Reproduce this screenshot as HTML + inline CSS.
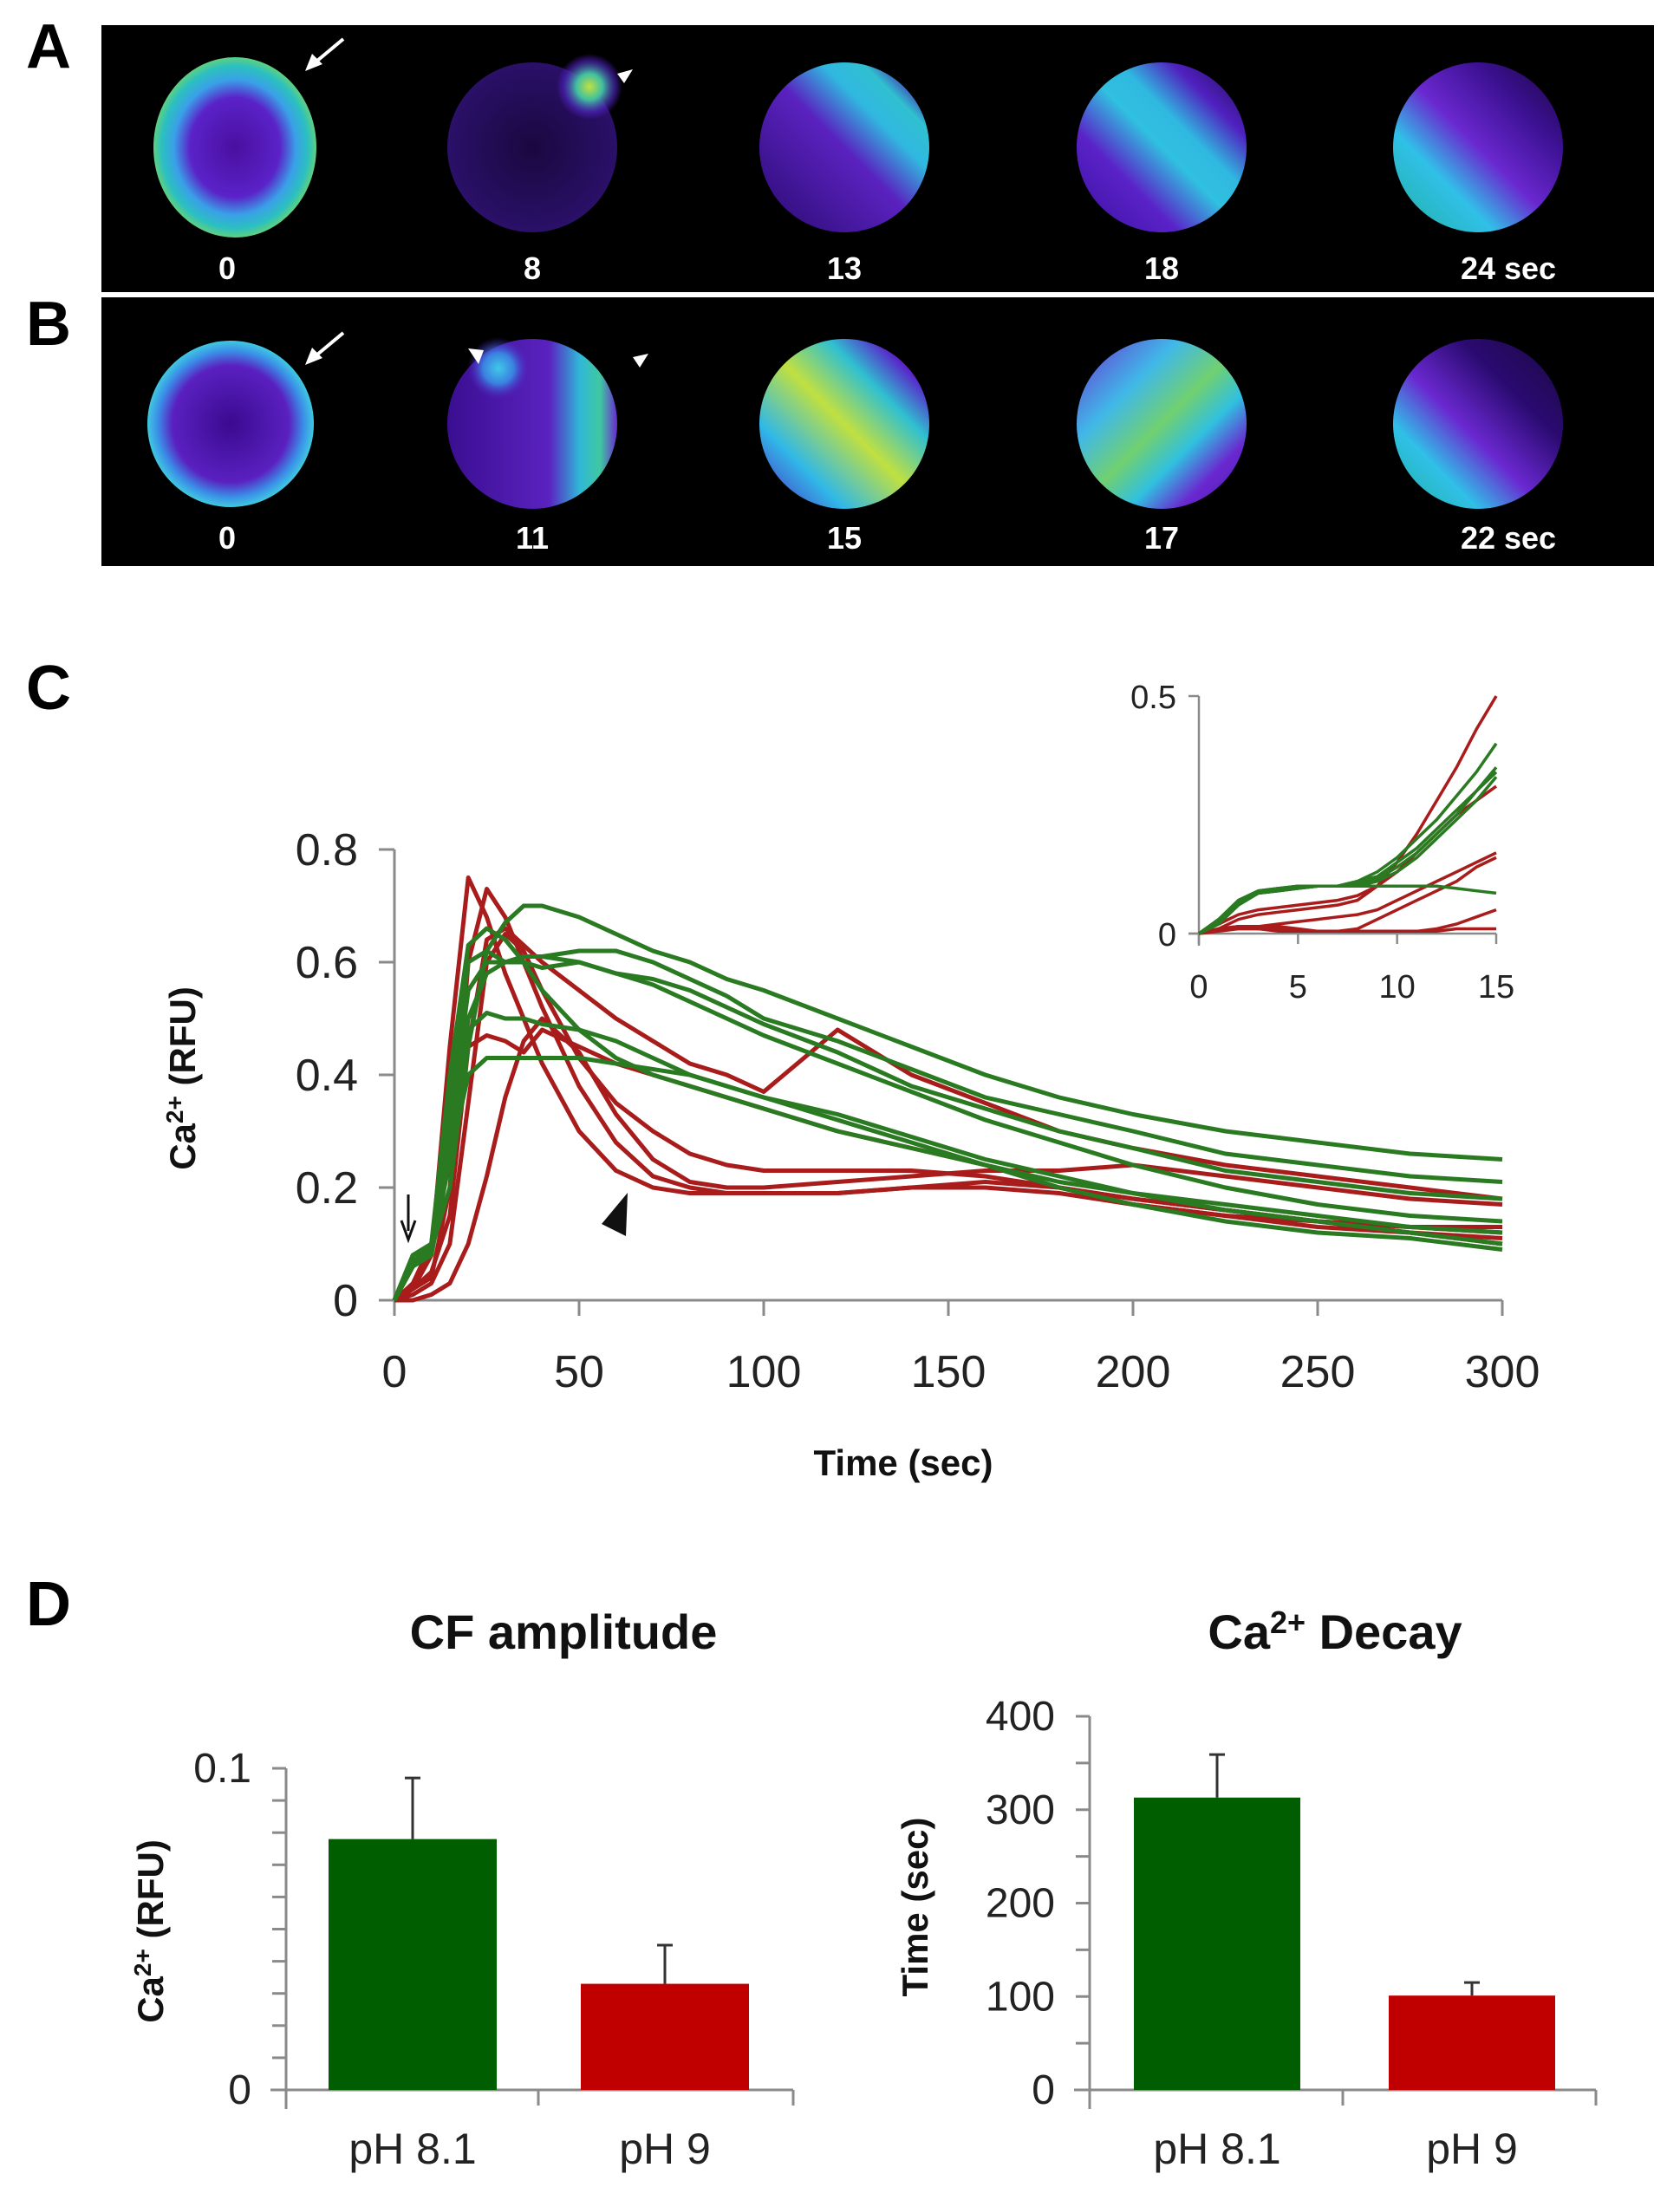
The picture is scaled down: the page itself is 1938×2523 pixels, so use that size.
<!DOCTYPE html>
<html><head><meta charset="utf-8">
<style>
html,body{margin:0;padding:0;background:#fff;}
svg{display:block;}
text{font-family:"Liberation Sans",Arial,sans-serif;}
</style></head>
<body>
<svg id="fig" width="1938" height="2523" viewBox="0 0 1938 2523" xmlns="http://www.w3.org/2000/svg">
<defs>
  <radialGradient id="gA0" cx="50%" cy="50%" r="50%"><stop offset="0" stop-color="#4a0fa0"/><stop offset="0.55" stop-color="#5a22c8"/><stop offset="0.75" stop-color="#3aa0e8"/><stop offset="0.9" stop-color="#2bc0c0"/><stop offset="1" stop-color="#5fd080"/></radialGradient>
  <radialGradient id="gB0" cx="50%" cy="50%" r="50%"><stop offset="0" stop-color="#3a0a90"/><stop offset="0.7" stop-color="#5a20c0"/><stop offset="0.88" stop-color="#3a90e8"/><stop offset="1" stop-color="#40c8e0"/></radialGradient>
  <radialGradient id="gDark" cx="50%" cy="50%" r="50%"><stop offset="0" stop-color="#1a0840"/><stop offset="1" stop-color="#2a1068"/></radialGradient>
  <radialGradient id="gSpot" cx="50%" cy="50%" r="50%"><stop offset="0" stop-color="#c0e040"/><stop offset="0.4" stop-color="#40c0a0"/><stop offset="0.8" stop-color="#5020c0" stop-opacity="0.6"/><stop offset="1" stop-color="#5020c0" stop-opacity="0"/></radialGradient>
  <radialGradient id="gSpotC" cx="50%" cy="50%" r="50%"><stop offset="0" stop-color="#40c8e8"/><stop offset="0.5" stop-color="#3a80e0"/><stop offset="1" stop-color="#5020c0" stop-opacity="0"/></radialGradient>
  <linearGradient id="gA13" x1="0" y1="1" x2="1" y2="0"><stop offset="0" stop-color="#2a0a70"/><stop offset="0.5" stop-color="#5a22c0"/><stop offset="0.68" stop-color="#30b8e0"/><stop offset="0.8" stop-color="#30c0d0"/><stop offset="0.9" stop-color="#4a20b0"/><stop offset="1" stop-color="#200850"/></linearGradient>
  <linearGradient id="gA18" x1="0" y1="1" x2="1" y2="0"><stop offset="0" stop-color="#3a10a0"/><stop offset="0.3" stop-color="#5a22c8"/><stop offset="0.5" stop-color="#30c0e0"/><stop offset="0.62" stop-color="#30b8e0"/><stop offset="0.78" stop-color="#5020c0"/><stop offset="1" stop-color="#1a0840"/></linearGradient>
  <linearGradient id="gA24" x1="0" y1="1" x2="1" y2="0"><stop offset="0" stop-color="#20b0a0"/><stop offset="0.3" stop-color="#30c0e8"/><stop offset="0.5" stop-color="#6a28d0"/><stop offset="0.75" stop-color="#3a1090"/><stop offset="1" stop-color="#1a0840"/></linearGradient>
  <linearGradient id="gB15" x1="0" y1="1" x2="1" y2="0"><stop offset="0" stop-color="#5020c0"/><stop offset="0.25" stop-color="#30b8e8"/><stop offset="0.5" stop-color="#c0e040"/><stop offset="0.7" stop-color="#30c0d0"/><stop offset="0.85" stop-color="#5a22c8"/><stop offset="1" stop-color="#3a1090"/></linearGradient>
  <linearGradient id="gB17" x1="0" y1="0" x2="1" y2="1"><stop offset="0" stop-color="#6a30d0"/><stop offset="0.3" stop-color="#40b8e8"/><stop offset="0.5" stop-color="#70d070"/><stop offset="0.65" stop-color="#30c0e0"/><stop offset="0.8" stop-color="#6a28d0"/><stop offset="1" stop-color="#4a18a8"/></linearGradient>
  <linearGradient id="gB22" x1="0" y1="1" x2="1" y2="0"><stop offset="0" stop-color="#20b0a0"/><stop offset="0.25" stop-color="#30c0e8"/><stop offset="0.45" stop-color="#6a28d0"/><stop offset="0.7" stop-color="#2a0a70"/><stop offset="1" stop-color="#1a0840"/></linearGradient>
  <linearGradient id="gB11" x1="0" y1="0" x2="1" y2="0"><stop offset="0" stop-color="#3a0e90"/><stop offset="0.6" stop-color="#5a22c0"/><stop offset="0.78" stop-color="#30b8d8"/><stop offset="0.9" stop-color="#40c8a0"/><stop offset="1" stop-color="#6a28d0"/></linearGradient>
</defs>

<!-- Panel labels -->
<text x="30" y="78" font-size="72" font-weight="bold">A</text>
<text x="30" y="398" font-size="72" font-weight="bold">B</text>
<text x="30" y="818" font-size="72" font-weight="bold">C</text>
<text x="30" y="1875" font-size="72" font-weight="bold">D</text>

<!-- Panel A image strip -->
<g>
  <rect x="117" y="29" width="1791" height="308" fill="#000"/>
  <ellipse cx="271" cy="170" rx="94" ry="104" fill="url(#gA0)"/>
  <circle cx="614" cy="170" r="98" fill="url(#gDark)"/>
  <circle cx="680" cy="100" r="38" fill="url(#gSpot)"/>
  <circle cx="974" cy="170" r="98" fill="url(#gA13)"/>
  <circle cx="1340" cy="170" r="98" fill="url(#gA18)"/>
  <circle cx="1705" cy="170" r="98" fill="url(#gA24)"/>
  <path d="M396 45 L366 70" stroke="#fff" stroke-width="4" fill="none"/>
  <path d="M352 82 L360 62 L372 74 Z" fill="#fff"/>
  <path d="M712 85 L730 80 L720 96 Z" fill="#fff"/>
  <g fill="#fff" font-size="36" font-weight="bold" text-anchor="middle">
    <text x="262" y="322">0</text><text x="614" y="322">8</text><text x="974" y="322">13</text><text x="1340" y="322">18</text><text x="1740" y="322">24 sec</text>
  </g>
</g>

<!-- Panel B image strip -->
<g>
  <rect x="117" y="343" width="1791" height="310" fill="#000"/>
  <circle cx="266" cy="489" r="96" fill="url(#gB0)"/>
  <circle cx="614" cy="489" r="98" fill="url(#gB11)"/>
  <circle cx="575" cy="425" r="36" fill="url(#gSpotC)"/>
  <circle cx="974" cy="489" r="98" fill="url(#gB15)"/>
  <circle cx="1340" cy="489" r="98" fill="url(#gB17)"/>
  <circle cx="1705" cy="489" r="98" fill="url(#gB22)"/>
  <path d="M396 384 L366 409" stroke="#fff" stroke-width="4" fill="none"/>
  <path d="M352 421 L360 401 L372 413 Z" fill="#fff"/>
  <path d="M540 402 L558 404 L552 420 Z" fill="#fff"/>
  <path d="M730 412 L748 408 L738 424 Z" fill="#fff"/>
  <g fill="#fff" font-size="36" font-weight="bold" text-anchor="middle">
    <text x="262" y="633">0</text><text x="614" y="633">11</text><text x="974" y="633">15</text><text x="1340" y="633">17</text><text x="1740" y="633">22 sec</text>
  </g>
</g>

<g id="chartC"></g>
<g id="inset"></g>
<g id="barL"></g>
<g id="barR"></g>
</svg>

<script>
// ---- Chart C data ----
const cTimes = [0,5,10,15,20,25,30,35,40,50,60,70,80,90,100,120,140,160,180,200,225,250,275,300];
const redSeries = [
 [0,0.02,0.08,0.45,0.75,0.68,0.58,0.5,0.42,0.3,0.23,0.2,0.19,0.19,0.19,0.19,0.2,0.2,0.19,0.17,0.15,0.13,0.12,0.11],
 [0,0.02,0.04,0.2,0.6,0.73,0.68,0.6,0.52,0.38,0.28,0.22,0.2,0.19,0.19,0.19,0.2,0.21,0.2,0.18,0.16,0.14,0.13,0.12],
 [0,0.02,0.05,0.15,0.45,0.64,0.66,0.63,0.6,0.55,0.5,0.46,0.42,0.4,0.37,0.48,0.4,0.35,0.3,0.27,0.24,0.22,0.2,0.18],
 [0,0,0.01,0.03,0.1,0.22,0.36,0.46,0.5,0.44,0.33,0.25,0.21,0.2,0.2,0.21,0.22,0.23,0.23,0.24,0.22,0.2,0.18,0.17],
 [0,0.03,0.1,0.3,0.45,0.47,0.46,0.44,0.48,0.45,0.42,0.4,0.38,0.36,0.34,0.3,0.27,0.24,0.2,0.17,0.15,0.14,0.13,0.13],
 [0,0.01,0.03,0.1,0.35,0.6,0.65,0.62,0.55,0.43,0.35,0.3,0.26,0.24,0.23,0.23,0.23,0.22,0.2,0.18,0.16,0.14,0.12,0.1]
];
const greenSeries = [
 [0,0.07,0.09,0.2,0.45,0.62,0.67,0.7,0.7,0.68,0.65,0.62,0.6,0.57,0.55,0.5,0.45,0.4,0.36,0.33,0.3,0.28,0.26,0.25],
 [0,0.06,0.09,0.3,0.55,0.6,0.6,0.61,0.61,0.62,0.62,0.6,0.57,0.54,0.5,0.46,0.41,0.36,0.33,0.3,0.26,0.24,0.22,0.21],
 [0,0.08,0.1,0.35,0.6,0.62,0.6,0.6,0.59,0.6,0.58,0.57,0.55,0.52,0.49,0.44,0.38,0.34,0.3,0.27,0.23,0.21,0.19,0.18],
 [0,0.08,0.1,0.4,0.63,0.66,0.64,0.6,0.55,0.48,0.43,0.4,0.38,0.36,0.34,0.3,0.27,0.24,0.21,0.19,0.17,0.15,0.13,0.12],
 [0,0.07,0.09,0.3,0.48,0.51,0.5,0.5,0.49,0.48,0.46,0.43,0.4,0.38,0.36,0.33,0.29,0.25,0.22,0.19,0.16,0.14,0.12,0.1],
 [0,0.06,0.08,0.25,0.4,0.43,0.43,0.43,0.43,0.43,0.42,0.41,0.4,0.38,0.36,0.32,0.28,0.24,0.2,0.17,0.14,0.12,0.11,0.09],
 [0,0.08,0.09,0.25,0.5,0.58,0.6,0.61,0.61,0.6,0.58,0.56,0.53,0.5,0.47,0.42,0.37,0.32,0.28,0.24,0.2,0.17,0.15,0.14]
];
const cXTicks = [0,50,100,150,200,250,300];
const cYTicks = [0,0.2,0.4,0.6,0.8];
const cYLabels = ["0","0.2","0.4","0.6","0.8"];

// ---- Inset data ----
const iTimes = [0,1,2,3,4,5,6,7,8,9,10,11,12,13,14,15];
const iGreen = [
 [0,0.03,0.07,0.09,0.095,0.1,0.1,0.1,0.11,0.13,0.16,0.2,0.24,0.29,0.34,0.4],
 [0,0.03,0.07,0.085,0.09,0.095,0.1,0.1,0.11,0.12,0.15,0.18,0.22,0.26,0.3,0.35],
 [0,0.02,0.06,0.085,0.09,0.095,0.1,0.1,0.105,0.115,0.14,0.17,0.21,0.25,0.3,0.34],
 [0,0.025,0.065,0.085,0.09,0.095,0.1,0.1,0.1,0.11,0.13,0.16,0.2,0.24,0.28,0.33],
 [0,0.03,0.07,0.09,0.095,0.1,0.1,0.1,0.1,0.1,0.1,0.1,0.1,0.095,0.09,0.085]
];
const iRed = [
 [0,0.01,0.03,0.04,0.045,0.05,0.055,0.06,0.07,0.1,0.15,0.21,0.28,0.35,0.43,0.5],
 [0,0.02,0.04,0.05,0.055,0.06,0.065,0.07,0.08,0.1,0.13,0.17,0.21,0.25,0.28,0.31],
 [0,0.01,0.015,0.015,0.02,0.025,0.03,0.035,0.04,0.05,0.07,0.09,0.11,0.13,0.15,0.17],
 [0,0.01,0.01,0.01,0.015,0.01,0.005,0.005,0.01,0.03,0.05,0.07,0.09,0.11,0.14,0.16],
 [0,0.005,0.01,0.01,0.01,0.005,0.005,0.005,0.005,0.005,0.005,0.005,0.01,0.02,0.035,0.05],
 [0,0.01,0.015,0.01,0.005,0.005,0.005,0.005,0.005,0.005,0.005,0.005,0.005,0.01,0.01,0.01]
];
const iXTicks = [0,5,10,15];
const iYTicks = [0,0.5];
const iYLabels = ["0","0.5"];

// ---- Bar chart data ----
const barCats = ["pH 8.1","pH 9"];
const ampValues = [0.078,0.033];
const ampErrors = [0.019,0.012];
const ampTicks = [0,0.1];
const ampTickLabels = ["0","0.1"];
const decayValues = [313,101];
const decayErrors = [46,14];
const decayTicks = [0,100,200,300,400];
const decayTickLabels = ["0","100","200","300","400"];

const NS = "http://www.w3.org/2000/svg";
function mk(parent, tag, attrs, txt){
  const e = document.createElementNS(NS, tag);
  for (const k in attrs) e.setAttribute(k, attrs[k]);
  if (txt !== undefined) e.textContent = txt;
  parent.appendChild(e);
  return e;
}
function pathD(xs, ys){ return xs.map((x,i)=>(i?"L":"M")+x.toFixed(1)+" "+ys[i].toFixed(1)).join(" "); }

// ---- Chart C ----
(function(){
  const g = document.getElementById("chartC");
  const x = t => 455 + t*(1278/300);
  const y = v => 1500 - v*650;
  const axisCol = "#8a8a8a";
  let yl = mk(g,"line",{x1:x(0),y1:y(0.8),x2:x(0),y2:y(0)+2,stroke:axisCol,"stroke-width":3});
  
  
  let xl = mk(g,"line",{x1:x(0)-18,y1:y(0),x2:x(300),y2:y(0),stroke:axisCol,"stroke-width":3});
  
  
  cYTicks.forEach((v,i)=>{
    mk(g,"line",{x1:x(0)-18,y1:y(v),x2:x(0),y2:y(v),stroke:axisCol,"stroke-width":3});
    const t = mk(g,"text",{x:x(0)-42,y:y(v)+18,"font-size":52,"text-anchor":"end",fill:"#222"},cYLabels[i]);
    
    
  });
  cXTicks.forEach(v=>{
    mk(g,"line",{x1:x(v),y1:y(0),x2:x(v),y2:y(0)+18,stroke:axisCol,"stroke-width":3});
    const t = mk(g,"text",{x:x(v),y:y(0)+100,"font-size":52,"text-anchor":"middle",fill:"#222"},String(v));
    
    
  });
  const xs = cTimes.map(x);
  redSeries.forEach((s,i)=>{
    const p = mk(g,"path",{d:pathD(xs,s.map(y)),fill:"none",stroke:"#a81c1c","stroke-width":5,"stroke-linejoin":"round"});
    
    
  });
  greenSeries.forEach((s,i)=>{
    const p = mk(g,"path",{d:pathD(xs,s.map(y)),fill:"none",stroke:"#2a7a22","stroke-width":5,"stroke-linejoin":"round"});
    
    
  });
  const yt = mk(g,"text",{x:0,y:0,"font-size":42,"font-weight":"bold","text-anchor":"middle",transform:"translate(225,1244) rotate(-90)",fill:"#111"});
  
  
  yt.innerHTML = 'Ca<tspan dy="-14" font-size="28">2+</tspan><tspan dy="14"> (RFU)</tspan>';
  const xt = mk(g,"text",{x:1042,y:1702,"font-size":42,"font-weight":"bold","text-anchor":"middle",fill:"#111"},"Time (sec)");
  
  
  const ar = mk(g,"path",{d:"M471 1378 L471 1420 M463 1408 L471 1430 L479 1408",stroke:"#111","stroke-width":3,fill:"none"});
  
  
  const ah = mk(g,"path",{d:"M694 1412 L724 1376 L722 1426 Z",fill:"#111"});
  
  
})();

// ---- Inset ----
(function(){
  const g = document.getElementById("inset");
  const x = t => 1383 + t*(343/15);
  const y = v => 1077 - v*548;
  const col = "#8a8a8a";
  mk(g,"line",{x1:x(0),y1:y(0.5),x2:x(0),y2:y(0)+14,stroke:col,"stroke-width":2.5});
  mk(g,"line",{x1:x(0)-12,y1:y(0),x2:x(15),y2:y(0),stroke:col,"stroke-width":2.5});
  iYTicks.forEach((v,i)=>{
    mk(g,"line",{x1:x(0)-12,y1:y(v),x2:x(0),y2:y(v),stroke:col,"stroke-width":2.5});
    const t = mk(g,"text",{x:x(0)-26,y:y(v)+14,"font-size":38,"text-anchor":"end",fill:"#222"},iYLabels[i]);
    
    
  });
  iXTicks.forEach(v=>{
    mk(g,"line",{x1:x(v),y1:y(0),x2:x(v),y2:y(0)+12,stroke:col,"stroke-width":2.5});
    const t = mk(g,"text",{x:x(v),y:y(0)+74,"font-size":38,"text-anchor":"middle",fill:"#222"},String(v));
    
    
  });
  const xs = iTimes.map(x);
  iRed.forEach((s,i)=>{
    const p = mk(g,"path",{d:pathD(xs,s.map(y)),fill:"none",stroke:"#a81c1c","stroke-width":3.5});
    
    
  });
  iGreen.forEach((s,i)=>{
    const p = mk(g,"path",{d:pathD(xs,s.map(y)),fill:"none",stroke:"#2a7a22","stroke-width":3.5});
    
    
  });
})();

// ---- Bar charts ----
function barChart(id, o){
  const g = document.getElementById(id);
  const y = v => o.y0 - (v/o.max)*(o.y0-o.yTop);
  const col = "#8a8a8a";
  mk(g,"line",{x1:o.ax,y1:o.yTop,x2:o.ax,y2:o.y0+22,stroke:col,"stroke-width":3});
  mk(g,"line",{x1:o.ax-18,y1:o.y0,x2:o.axEnd,y2:o.y0,stroke:col,"stroke-width":3});
  mk(g,"line",{x1:o.midTick,y1:o.y0,x2:o.midTick,y2:o.y0+18,stroke:col,"stroke-width":3});
  mk(g,"line",{x1:o.axEnd,y1:o.y0,x2:o.axEnd,y2:o.y0+18,stroke:col,"stroke-width":3});
  for (let k=0;k<=o.minor;k++){
    const v = o.max*k/o.minor;
    mk(g,"line",{x1:o.ax-16,y1:y(v),x2:o.ax,y2:y(v),stroke:col,"stroke-width":3});
  }
  o.ticks.forEach((v,i)=>{
    const t = mk(g,"text",{x:o.ax-40,y:y(v)+16,"font-size":48,"text-anchor":"end",fill:"#222"},o.tickLabels[i]);
    
    
  });
  const fills = ["#005e00","#c00000"];
  o.values.forEach((v,i)=>{
    const cx = o.centers[i];
    const r = mk(g,"rect",{x:cx-o.bw/2,y:y(v),width:o.bw,height:o.y0-y(v),fill:fills[i]});
    
    
    const e = mk(g,"path",{d:`M${cx} ${y(v)} L${cx} ${y(v+o.errors[i])} M${cx-9} ${y(v+o.errors[i])} L${cx+9} ${y(v+o.errors[i])}`,stroke:"#333","stroke-width":3,fill:"none"});
    
    
    const t = mk(g,"text",{x:cx,y:o.y0+85,"font-size":50,"text-anchor":"middle",fill:"#222"},barCats[i]);
    
    
  });
  const tt = mk(g,"text",{x:o.titleX,y:1902,"font-size":56,"font-weight":"bold","text-anchor":"middle",fill:"#111"});
  
  
  tt.innerHTML = o.title;
  const yt = mk(g,"text",{x:0,y:0,"font-size":42,"font-weight":"bold","text-anchor":"middle",transform:`translate(${o.ytX},${o.ytY}) rotate(-90)`,fill:"#111"});
  
  
  yt.innerHTML = o.yTitle;
}
barChart("barL",{ax:330,axEnd:915,midTick:621,y0:2411,yTop:2040,max:0.1,minor:10,ticks:ampTicks,tickLabels:ampTickLabels,values:ampValues,errors:ampErrors,centers:[476,767],bw:194,titleX:650,title:"CF amplitude",ytX:188,ytY:2228,yTitle:'Ca<tspan dy="-14" font-size="28">2+</tspan><tspan dy="14"> (RFU)</tspan>'});
barChart("barR",{ax:1257,axEnd:1841,midTick:1549,y0:2411,yTop:1980,max:400,minor:8,ticks:decayTicks,tickLabels:decayTickLabels,values:decayValues,errors:decayErrors,centers:[1404,1698],bw:192,titleX:1540,title:'Ca<tspan dy="-18" font-size="36">2+</tspan><tspan dy="18">  Decay</tspan>',ytX:1070,ytY:2200,yTitle:"Time (sec)"});
</script>
</body></html>
